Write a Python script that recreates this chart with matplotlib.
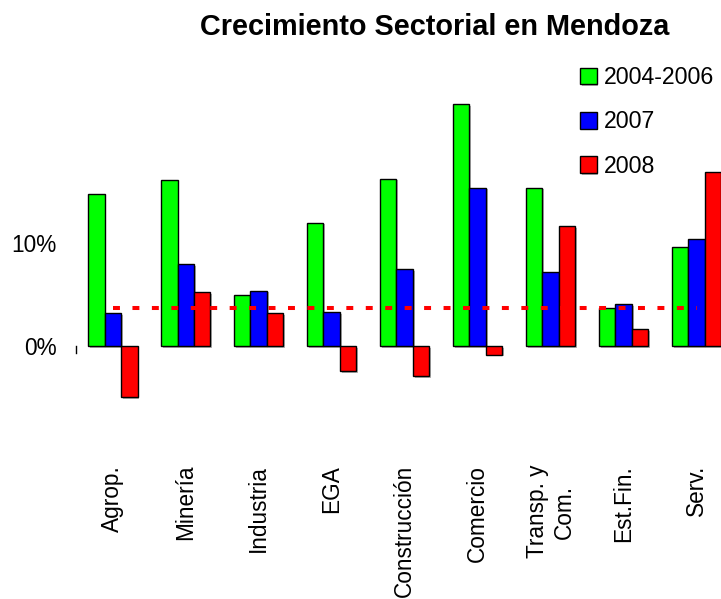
import matplotlib
matplotlib.use("Agg")
import matplotlib.pyplot as plt
import matplotlib.patheffects as pe
import numpy as np

categories = ["Agrop.", "Minería", "Industria", "EGA", "Construcción",
              "Comercio", "Transp. y\nCom.", "Est.Fin.", "Serv."]
series_names = ["2004-2006", "2007", "2008"]
v_0406 = [14.8, 16.2, 5.0, 12.0, 16.3, 23.5, 15.4, 3.7, 9.7]
v_2007 = [3.2, 8.0, 5.4, 3.3, 7.5, 15.4, 7.2, 4.1, 10.4]
v_2008 = [-4.9, 5.3, 3.2, -2.4, -2.9, -0.8, 11.7, 1.7, 16.9]
avg_line = 3.7
colors = ["#00FF00", "#0000FF", "#FF0000"]

plt.rcParams['font.family'] = ['Liberation Sans', 'DejaVu Sans']
plt.rcParams['lines.scale_dashes'] = False

fig = plt.figure(figsize=(7.21, 5.99), dpi=100)
ax = fig.add_axes([0.1058, 0.2496, 0.911, 0.602])

x = np.arange(len(categories))
w = 0.226
shadow = [pe.SimplePatchShadow(offset=(1.2, -1.2), shadow_rgbFace='gray', alpha=0.6), pe.Normal()]
for i, (vals, name, c) in enumerate(zip([v_0406, v_2007, v_2008], series_names, colors)):
    bars = ax.bar(x + (i - 1) * w, vals, width=w, color=c, edgecolor='black',
                  linewidth=1.0, label=name)
    for b in bars:
        b.set_path_effects(shadow)

ax.plot([x[0], x[-1]], [avg_line, avg_line], color='#FF0000', linewidth=2.9,
        dashes=(5, 9), solid_capstyle='butt', dash_capstyle='butt')

# small tick at origin
ax.plot([-0.5, -0.5], [0, -0.6], color='black', linewidth=1, clip_on=False)

ax.set_xlim(-0.5, len(categories) - 0.5)
ax.set_ylim(-10, 25)
ax.set_yticks([0, 10])
ax.set_yticklabels(["0%", "10%"], fontsize=16.3)
ax.tick_params(axis='y', length=0, pad=14)
ax.set_xticks(x)
ax.set_xticklabels(categories, rotation=90, fontsize=16.3, ha='center', va='top',
                   multialignment='center')
ax.tick_params(axis='x', length=0, pad=11)
for s in ax.spines.values():
    s.set_visible(False)

fig.text(0.603, 0.955, "Crecimiento Sectorial en Mendoza", ha='center', va='center',
         fontsize=20.8, fontweight='bold')

fig.legend(loc='upper left', bbox_to_anchor=(580 / 721, 1 - 66 / 599), frameon=False,
           fontsize=16.7, handlelength=0.72, handleheight=0.72, handletextpad=0.3,
           labelspacing=0.92, borderpad=0, borderaxespad=0)

fig.savefig("out.png", dpi=100)
